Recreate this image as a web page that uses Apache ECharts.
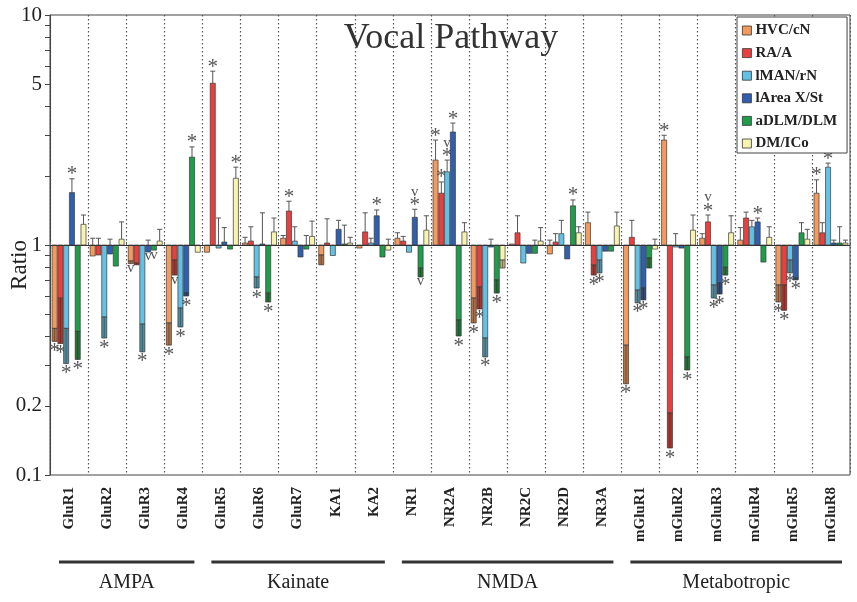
<!DOCTYPE html>
<html><head><meta charset="utf-8">
<script src="https://cdn.jsdelivr.net/npm/echarts@6/dist/echarts.min.js"></script>
<style>html,body{margin:0;padding:0;background:#fff}#c{width:857px;height:602px}</style>
</head><body><div id="c"></div>
<script>
// ---------- data ----------
const categories = ['GluR1','GluR2','GluR3','GluR4','GluR5','GluR6','GluR7','KA1','KA2','NR1','NR2A','NR2B','NR2C','NR2D','NR3A','mGluR1','mGluR2','mGluR3','mGluR4','mGluR5','mGluR8'];
const seriesNames = ['HVC/cN','RA/A','lMAN/rN','lArea X/St','aDLM/DLM','DM/ICo'];
const groupNames = ['AMPA','Kainate','NMDA','Metabotropic'];
const groupStarts = [0,4,9,15];
const groupEnds = [3,8,14,20];
const yTickValues = [0.1,0.2,0.3,0.4,0.5,0.6,0.7,0.8,0.9,1,2,3,4,5,6,7,8,9,10];
const yLabelValues = [0.1,0.2,1,5,10];

// ratio (mean) values
const hvcValues  = [0.434,0.896,0.852,0.458,0.93,1.02,1.07,0.905,0.97,1.07,2.34,0.588,1.01,0.914,1.25,0.367,2.86,1.07,1.05,0.67,1.68];
const raValues   = [0.587,0.905,0.835,0.86,5.05,1.04,1.405,1.02,1.14,1.04,1.68,0.657,1.13,1.03,0.818,1.08,0.186,1.26,1.31,0.67,1.13];
const lmanValues = [0.434,0.486,0.453,0.532,0.97,0.726,1.04,0.9,1.02,0.93,2.08,0.394,0.835,1.12,0.86,0.637,0.98,0.67,1.2,0.86,2.18];
const areaValues = [1.69,0.914,0.932,0.62,1.03,1.01,0.887,1.17,1.34,1.32,3.10,0.98,0.92,0.87,0.94,0.65,0.97,0.684,1.26,0.72,1.02];
const dlmValues  = [0.421,0.81,0.95,2.41,0.96,0.618,0.96,1.01,0.887,0.794,0.472,0.705,0.92,1.48,0.94,0.878,0.326,0.8,0.843,1.13,1.02];
const dmValues   = [1.23,1.06,1.04,0.93,1.95,1.14,1.09,1.02,0.95,1.16,1.14,0.86,1.04,1.13,1.21,0.96,1.16,1.13,1.08,1.06,1.02];

// error bar end values (ratio)
const hvcErr  = [0.381,1.07,0.83,0.367,null,1.08,1.1,0.82,null,1.13,2.86,0.458,null,1.05,1.39,0.249,3.0,1.12,1.19,0.565,1.92];
const raErr   = [0.373,1.07,0.82,0.74,5.7,1.2,1.55,1.3,1.38,1.09,1.88,0.527,1.34,1.12,0.74,1.28,0.131,1.35,1.39,0.52,1.25];
const lmanErr = [0.305,0.394,0.343,0.44,1.31,0.65,1.2,null,1.07,null,2.34,0.326,null,1.28,0.756,0.56,1.12,0.588,1.28,0.756,2.27];
const areaErr = [1.94,1.06,1.05,0.60,1.19,1.38,null,1.28,1.42,1.43,3.39,1.06,null,null,null,0.577,null,0.612,1.31,0.705,1.05];
const dlmErr  = [0.318,null,null,2.67,null,0.565,1.1,1.22,null,0.726,0.402,0.618,1.05,1.57,null,0.794,0.286,0.74,null,1.25,1.2];
const dmErr   = [1.35,1.26,1.17,null,2.18,1.31,1.27,1.08,1.06,1.34,1.25,0.794,1.19,1.2,1.39,1.06,1.35,1.34,1.2,1.17,1.05];

// significance marks
const hvcMarks  = ['*','','v','*','','','','','','','*','*','','','','*','*','','','*','*'];
const raMarks   = ['*','','','v','*','','*','','','','*','*','','','*','','*','v*','','*',''];
const lmanMarks = ['*','*','*','*','','*','','','','','v*','*','','','*','*','','*','','*','*'];
const areaMarks = ['*','','v','*','','','','','*','v*','*','','','','','*','','*','*','*',''];
const dlmMarks  = ['*','','v','*','','*','','','','v','*','*','','*','','','*','*','','',''];
const dmMarks   = ['','','','','*','','','','','','','','','','','','','','','',''];

const allValues = [hvcValues, raValues, lmanValues, areaValues, dlmValues, dmValues];
const allErr = [hvcErr, raErr, lmanErr, areaErr, dlmErr, dmErr];
const allMarks = [hvcMarks, raMarks, lmanMarks, areaMarks, dlmMarks, dmMarks];
const colors = ['#F39A5E','#E9403F','#62C2E6','#2F5FAE','#1E9E4B','#F8F3AE'];

const SERIF = '"Liberation Serif","Times New Roman",serif';

function makeRender(s) {
  return function (params, api) {
    const idx = params.dataIndex;
    const k = api.value(0);
    const v = api.value(1);
    const e = allErr[s][idx];
    const mk = allMarks[s][idx];
    const p1 = api.coord([k, 1]);
    const pv = api.coord([k, v]);
    const band = api.size([1, 0])[0];
    const pad = band * 0.045;
    const slot = (band - 2 * pad) / 6;
    const x = p1[0] - band / 2 + pad + s * slot + 0.35;
    const w = slot - 0.7;
    const cx = x + w / 2;
    const up = v >= 1;
    const children = [];
    const yTop = Math.min(p1[1], pv[1]);
    const h = Math.max(Math.abs(p1[1] - pv[1]), 0.8);
    children.push({type: 'rect', shape: {x: x, y: yTop, width: w, height: h},
      style: {fill: colors[s], stroke: '#3a3a3a', lineWidth: 0.7}});
    let endY = pv[1];
    if (e != null) {
      const pe = api.coord([k, e])[1];
      if (e > v && e > 1) {
        const from = up ? pv[1] : p1[1];
        children.push({type: 'line', shape: {x1: cx, y1: from, x2: cx, y2: pe}, style: {stroke: '#555', lineWidth: 1}});
        children.push({type: 'line', shape: {x1: cx - w * 0.5, y1: pe, x2: cx + w * 0.5, y2: pe}, style: {stroke: '#555', lineWidth: 1}});
        if (up) endY = pe;
      } else if (e < v) {
        children.push({type: 'rect', shape: {x: x, y: pv[1], width: w, height: pe - pv[1]},
          style: {fill: colors[s], stroke: 'none'}});
        children.push({type: 'rect', shape: {x: x, y: pv[1], width: w, height: pe - pv[1]},
          style: {fill: 'rgba(50,30,15,0.33)', stroke: '#3a3a3a', lineWidth: 0.7}});
        children.push({type: 'line', shape: {x1: cx, y1: pv[1], x2: cx, y2: pe}, style: {stroke: 'rgba(30,30,30,0.5)', lineWidth: 0.8}});
        endY = pe;
      }
    }
    // markers, outward order: '*' then 'v'
    const dir = up ? -1 : 1;
    let dist = 2;
    const order = [];
    if (mk.indexOf('*') >= 0) order.push('*');
    if (mk.indexOf('v') >= 0) order.push('v');
    order.forEach(function (m) {
      if (m === '*') {
        const c = endY + dir * (dist + 5);
        children.push({type: 'text', style: {text: '*', x: cx, y: c + 3, align: 'center', verticalAlign: 'middle',
          font: '21px ' + SERIF, fill: '#555'}});
        dist += 10;
      } else {
        const c = endY + dir * (dist + 4);
        children.push({type: 'text', style: {text: 'v', x: cx, y: c - 1.5, align: 'center', verticalAlign: 'middle',
          font: '15px ' + SERIF, fill: '#555'}});
        dist += 9;
      }
    });
    return {type: 'group', children: children};
  };
}

const series = seriesNames.map(function (name, s) {
  const o = {
    name: name,
    type: 'custom',
    xAxisIndex: 0,
    yAxisIndex: 0,
    itemStyle: {color: colors[s]},
    renderItem: makeRender(s),
    encode: {x: 0, y: 1},
    clip: false,
    data: categories.map(function (c, k) { return [k, allValues[s][k]]; })
  };
  if (s === 0) {
    o.markLine = {silent: true, symbol: 'none', label: {show: false}, z: 10,
      lineStyle: {color: '#333', width: 1.2, type: 'solid'}, data: [{yAxis: 1}]};
  }
  return o;
});

const lg = v => Math.max(-1, Math.min(1, Math.log10(v)));

const option = {
  animation: false,
  backgroundColor: '#fff',
  title: {text: 'Vocal Pathway', left: 446, top: 16, textAlign: 'center',
    textStyle: {fontFamily: SERIF, fontSize: 36, fontWeight: 'normal', color: '#333'}},
  legend: {
    orient: 'vertical', left: 737, top: 17, icon: 'rect', itemWidth: 9, itemHeight: 9, itemGap: 7.6,
    padding: [6, 10, 2, 5], borderColor: '#444', borderWidth: 1, backgroundColor: '#fff',
    textStyle: {fontFamily: SERIF, fontSize: 15, fontWeight: 'bold', color: '#222', padding: [0, 0, 0, -1]},
    data: seriesNames.map(n => ({name: n, itemStyle: {borderColor: '#333', borderWidth: 0.8}}))
  },
  grid: {left: 50, right: 7, top: 15, bottom: 127, show: true, borderColor: '#444', borderWidth: 1,
    containLabel: false, outerBoundsMode: 'none'},
  xAxis: {
    type: 'category', data: categories, boundaryGap: true,
    axisLine: {show: true, lineStyle: {color: '#444', width: 1}},
    axisTick: {show: true, inside: true, length: 3, lineStyle: {color: '#666'}},
    axisLabel: {rotate: 90, interval: 0, margin: 12, fontFamily: SERIF, fontWeight: 'bold', fontSize: 15, color: '#222'},
    splitLine: {show: true, interval: 0, lineStyle: {color: '#555', width: 1.2, type: [1.5, 2.5]}}
  },
  yAxis: [
    {type: 'log', logBase: 10, min: 0.1, max: 10,
      axisLine: {show: true, lineStyle: {color: '#444'}}, axisTick: {show: false}, axisLabel: {show: false},
      splitLine: {show: false}, minorTick: {show: false}},
    {type: 'value', min: -1, max: 1, position: 'left',
      name: 'Ratio', nameLocation: 'middle', nameGap: 19, nameRotate: 90, nameMoveOverlap: false,
      nameTextStyle: {fontFamily: SERIF, fontSize: 23, color: '#222', padding: [0, 40, 0, 0]},
      axisLine: {show: false},
      axisTick: {show: true, length: 5, lineStyle: {color: '#444'}, customValues: yTickValues.map(lg)},
      axisLabel: {show: true, margin: 8, fontFamily: SERIF, fontSize: 21, color: '#222',
        customValues: yLabelValues.map(lg),
        formatter: function (val) { return String(Number(Math.pow(10, val).toPrecision(2))); }},
      splitLine: {show: false}}
  ],
  series: series
};

const chart = echarts.init(document.getElementById('c'), null, {renderer: 'canvas'});
chart.setOption(option);

// group annotations below the category labels
const px = k => chart.convertToPixel({xAxisIndex: 0}, categories[k]);
const band = px(1) - px(0);
const yBottom = chart.convertToPixel({yAxisIndex: 0}, 0.1);
const graphics = [];
groupNames.forEach(function (g, i) {
  const x1 = px(groupStarts[i]) - band / 2 + 9;
  const x2 = px(groupEnds[i]) + band / 2 - 8;
  graphics.push({type: 'line', shape: {x1: x1, y1: yBottom + 87, x2: x2, y2: yBottom + 87},
    style: {stroke: '#333', lineWidth: 3}});
  graphics.push({type: 'text', x: (x1 + x2) / 2, y: yBottom + 108,
    style: {text: g, align: 'center', verticalAlign: 'middle', font: '20px ' + SERIF, fill: '#222'}});
});
chart.setOption({graphic: graphics});
</script>
</body></html>
